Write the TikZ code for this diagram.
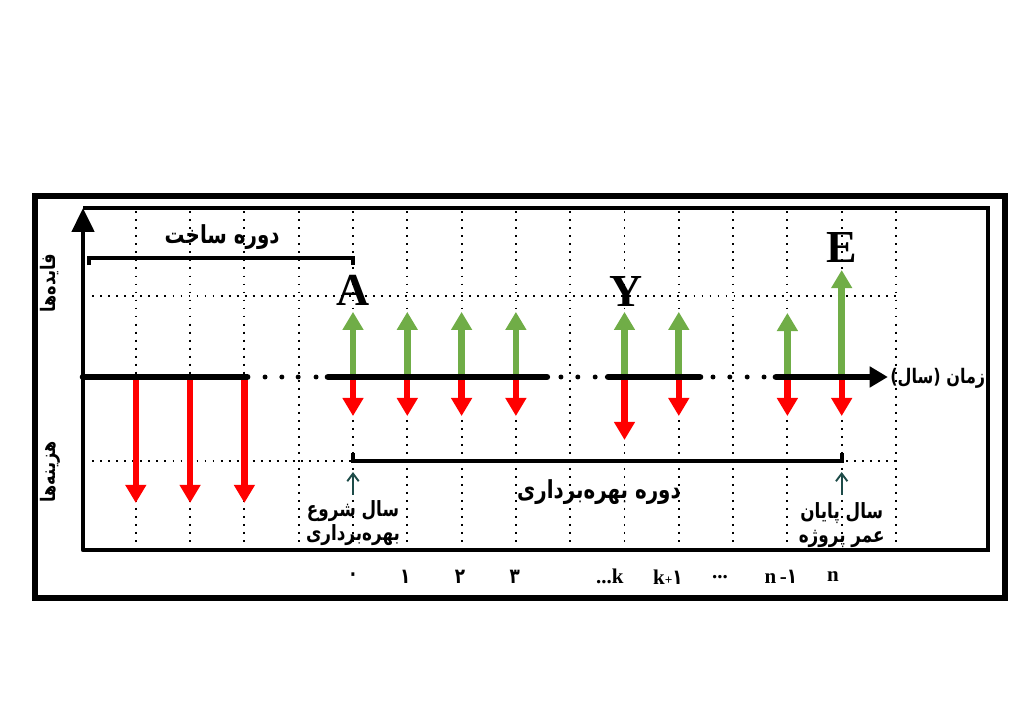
\documentclass[tikz,border=0pt]{standalone}
\usepackage{fontspec}
\setmainfont{Liberation Serif}
\newfontfamily\fafont[Script=Arabic,FakeStretch=0.8]{DejaVu Sans}
\TeXXeTstate=1
\usetikzlibrary{arrows.meta,positioning}
\definecolor{gaingreen}{HTML}{70AD47}
\definecolor{costred}{HTML}{FF0000}
\definecolor{notecol}{HTML}{1D4B48}

\begin{document}
\begin{tikzpicture}[>=Stealth,
    grid/.style={line width=1pt,dash pattern=on 1pt off 3.2pt},
    timeaxis/.style={line width=3.5pt,line cap=round},
    gainarrow/.style={draw=gaingreen,line width=3.5pt,-{Triangle[width=10.5pt,length=9.5pt]}},
    costarrow/.style={draw=costred,line width=3.3pt,-{Triangle[width=10.5pt,length=9.5pt]}},
    bracketline/.style={line width=2.2pt},
    notearrow/.style={draw=notecol,line width=1pt,-{Straight Barb[width=6pt,length=4pt]}},
    falabel/.style={font=\fafont\bfseries\fontsize{13}{15}\selectfont,inner sep=0pt},
    faside/.style={font=\fafont\bfseries\fontsize{10.5}{12}\selectfont,inner sep=0pt},
    fasmall/.style={font=\fafont\bfseries\fontsize{11}{12.5}\selectfont,inner sep=0pt,align=center},
    letter/.style={font=\fontsize{24}{24}\selectfont\bfseries,inner sep=0pt},
    year/.style={font=\fontsize{11}{11}\selectfont\bfseries,inner sep=0pt}]
    \useasboundingbox (-6.501,-6.390) rectangle (12.339,6.943);
    % frames
    \draw[line width=2.7pt] (-5.856,-4.07) rectangle (12.007,3.333);
    \draw[line width=1.6pt] (-4.972,3.112) -- (11.694,3.112) -- (11.694,-3.186) -- (-4.972,-3.186);
    % grid
    \foreach \x in {-4,...,10}
    	\draw[grid] (\x,3.05) -- (\x,-3.15);
    \draw[grid] (-4.8,1.49) -- (10,1.49);
    \draw[grid] (-4.8,-1.55) -- (10,-1.55);
    % vertical axis
    \draw[line width=2.4pt,line join=round,-{Triangle[width=11.5pt,length=12.5pt]}] (11.694,-3.186) -- (-4.972,-3.186) -- (-4.972,3.112);
    \node[faside,rotate=90] (gains) at (-5.58,1.73) {\beginR فایده‌ها\endR};
    \node[faside,rotate=90] (costs) at (-5.58,-1.75) {\beginR هزینه‌ها\endR};
    % cash flows
    \foreach \x/\h in {0/1.2, 1/1.2, 2/1.2, 3/1.2, 5/1.2, 6/1.2, 8/1.18, 9/1.97}
    	\draw[gainarrow] (\x,0) -- (\x,\h);
    \foreach \x/\h in {-4/-2.32, -3/-2.32, -2/-2.32, 0/-0.72, 1/-0.72, 2/-0.72, 3/-0.72, 5/-1.16, 6/-0.72, 8/-0.72, 9/-0.72}
    	\draw[costarrow] (\x,0) -- (\x,\h);
    % time axis
    \draw[timeaxis] (-4.972,0) -- (-1.95,0);
    \draw[timeaxis] (-0.46,0) -- (3.57,0);
    \draw[timeaxis] (4.70,0) -- (6.39,0);
    \draw[timeaxis,-{Triangle[width=10.5pt,length=9.5pt]}] (7.79,0) -- (9.85,0);
    \foreach \x in {-1.62,-1.31,-1.01,-0.68, 3.83,4.14,4.46, 6.63,6.94,7.26,7.57}
    	\fill (\x,0) circle (1.3pt);
    \node[faside,anchor=west] (time) at (9.89,-0.02) {\beginR زمان (سال)\endR};
    % A, Y, E
    \node[letter] (A) at (0,1.6) {A};
    \node[letter] (Y) at (5.03,1.58) {Y};
    \node[letter] (E) at (9,2.39) {E};
    % construction period
    \draw[bracketline] (-4.86,2.06) -- (-4.86,2.19) -- (0,2.19) -- (0,2.06);
    \node[falabel] (build) at (-2.41,2.58) {\beginR دوره ساخت\endR};
    % operation period
    \draw[bracketline] (0,-1.40) -- (0,-1.55) -- (9,-1.55) -- (9,-1.40);
    \node[falabel] (run) at (4.53,-2.12) {\beginR دوره بهره‌برداری\endR};
    \draw[notearrow] (0,-2.17) -- (0,-1.75);
    \draw[notearrow] (9,-2.17) -- (9,-1.75);
    \node[fasmall] (start) at (0,-2.69) {\beginR سال شروع\endR\\\beginR بهره‌برداری\endR};
    \node[fasmall] (end) at (9,-2.72) {\beginR سال پایان\endR\\\beginR عمر پروژه\endR};
    % years
    \node[year] (y0) at (0,-3.68) {\fafont ۰};
    \node[year] (y1) at (0.96,-3.68) {\fafont ۱};
    \node[year] (y2) at (1.97,-3.68) {\fafont ۲};
    \node[year] (y3) at (2.98,-3.68) {\fafont ۳};
    \node[year] (yk) at (4.73,-3.68) {...k};
    \node[year] (yk1) at (5.80,-3.68) {k{\scriptsize+}{\fafont ۱}};
    \node[year] (ydots) at (6.76,-3.68) {...};
    \node[year] (yn1) at (7.88,-3.68) {n\,{-}{\fafont ۱}};
    \node[year] (yn) at (8.84,-3.68) {n};
\end{tikzpicture}
\end{document}
